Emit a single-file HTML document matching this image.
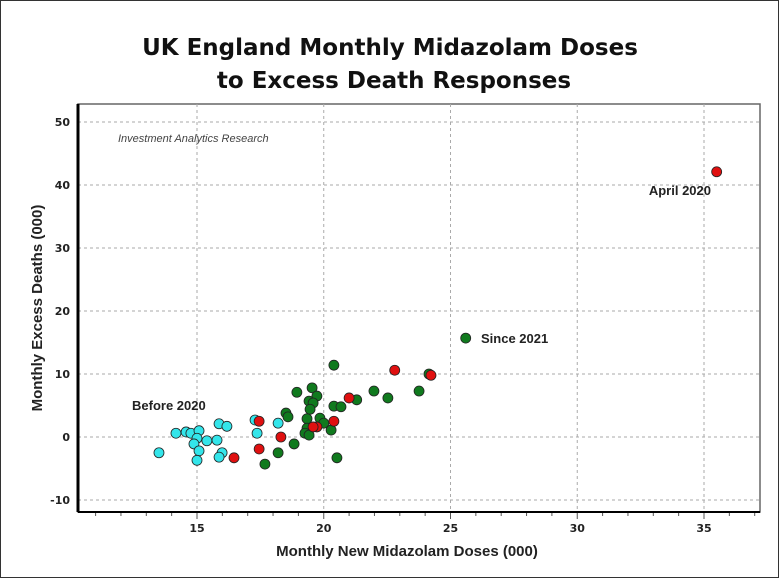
<!DOCTYPE html>
<html><head><meta charset="utf-8"><style>
body{margin:0;background:#fff}
svg{display:block}
text{font-family:"DejaVu Sans","Liberation Sans",sans-serif}
</style></head><body>
<svg id="c" width="782" height="582">
<rect x="0.5" y="0.5" width="778" height="577" fill="#fff" stroke="#333"/>
<text x="390" y="55" text-anchor="middle" font-size="23" font-weight="bold" fill="#111">UK England Monthly Midazolam Doses</text>
<text x="394" y="88" text-anchor="middle" font-size="23" font-weight="bold" fill="#111">to Excess Death Responses</text>
<g id="grid"></g>
<g id="axes"></g>
<g id="pts"></g>
<text x="118" y="142" font-size="11" font-style="italic" fill="#444" style="font-family:'Liberation Sans',sans-serif">Investment Analytics Research</text>
<text x="711" y="195" text-anchor="end" font-size="13" font-weight="bold" fill="#222" style="font-family:'Liberation Sans',sans-serif">April 2020</text>
<text x="481" y="343" font-size="13" font-weight="bold" fill="#222" style="font-family:'Liberation Sans',sans-serif">Since 2021</text>
<text x="132" y="410" font-size="13" font-weight="bold" fill="#222" style="font-family:'Liberation Sans',sans-serif">Before 2020</text>
<text x="407" y="556" text-anchor="middle" font-size="15" font-weight="bold" fill="#222" style="font-family:'Liberation Sans',sans-serif">Monthly New Midazolam Doses (000)</text>
<text transform="translate(42,308) rotate(-90)" text-anchor="middle" font-size="15" font-weight="bold" fill="#222" style="font-family:'Liberation Sans',sans-serif">Monthly Excess Deaths (000)</text>
</svg>
<script>
const xTicks=[15,20,25,30,35];
const yTicks=[-10,0,10,20,30,40,50];
const cyanX=[13.5,14.17,14.57,14.76,15.08,15.0,14.88,15.39,15.79,15.08,15.0,15.87,16.18,15.99,15.87,17.29,17.37,18.2];
const cyanY=[-2.5,0.6,0.8,0.6,1.0,-0.2,-1.1,-0.6,-0.5,-2.2,-3.7,2.1,1.7,-2.5,-3.2,2.7,0.6,2.2];
const redX=[17.45,16.46,17.45,18.31,19.73,19.58,20.4,21.0,22.8,24.23,35.5];
const redY=[2.5,-3.3,-1.9,0.0,1.6,1.6,2.5,6.2,10.6,9.8,42.1];
const greenX=[20.4,18.94,19.54,19.73,19.42,19.58,19.46,18.51,18.59,19.34,19.85,20.0,19.34,19.26,19.42,20.29,20.4,20.68,21.3,21.98,18.83,18.2,17.68,20.52,22.53,23.76,24.15,25.6];
const greenY=[11.4,7.1,7.8,6.5,5.7,5.4,4.4,3.8,3.2,2.9,3.0,2.2,1.4,0.6,0.3,1.1,4.9,4.8,5.9,7.3,-1.1,-2.5,-4.3,-3.3,6.2,7.3,10.0,15.7];
const L=78,R=760,T=104,B=512;
const sx=v=>197+(v-15)*25.35;
const sy=v=>437-v*6.3;
const NS="http://www.w3.org/2000/svg";
function mk(p,tag,a){const e=document.createElementNS(NS,tag);for(const k in a)e.setAttribute(k,a[k]);p.appendChild(e);return e;}
const grid=document.getElementById('grid'),axes=document.getElementById('axes'),pts=document.getElementById('pts');
mk(grid,'rect',{x:L,y:T,width:R-L,height:B-T,fill:'#fff',stroke:'#666','stroke-width':1.5});
xTicks.forEach(v=>{const l=mk(grid,'line',{x1:sx(v),x2:sx(v),y1:T,y2:B,stroke:'#aaa','stroke-dasharray':'3,3'});

const t=mk(axes,'text',{x:sx(v),y:B+20,'text-anchor':'middle','font-size':11,'font-weight':'bold',fill:'#222'});t.textContent=v;
});
for(let v=11;v<=37;v++){if(sx(v)>R)break;const l=mk(axes,'line',{x1:sx(v),x2:sx(v),y1:B,y2:B+(v%5==0?7:4),stroke:'#555'});
}
yTicks.forEach(v=>{const l=mk(grid,'line',{x1:L,x2:R,y1:sy(v),y2:sy(v),stroke:'#aaa','stroke-dasharray':'3,3'});

const t=mk(axes,'text',{x:L-8,y:sy(v)+4,'text-anchor':'end','font-size':11,'font-weight':'bold',fill:'#222'});t.textContent=v;
});
mk(axes,'line',{x1:L,x2:L,y1:T,y2:B,stroke:'#000','stroke-width':3});
mk(axes,'line',{x1:L,x2:R,y1:B,y2:B,stroke:'#000','stroke-width':2});
function series(xs,ys,col,name){xs.forEach((x,i)=>{const c=mk(pts,'circle',{cx:sx(x),cy:sy(ys[i]),r:5,fill:col,stroke:'#222','stroke-width':0.8});
});}
series(cyanX,cyanY,'#33e5ea','point-before-2020');
series(greenX,greenY,'#107a1e','point-since-2021');
series(redX,redY,'#e01010','point-2020');
</script>
</body></html>
